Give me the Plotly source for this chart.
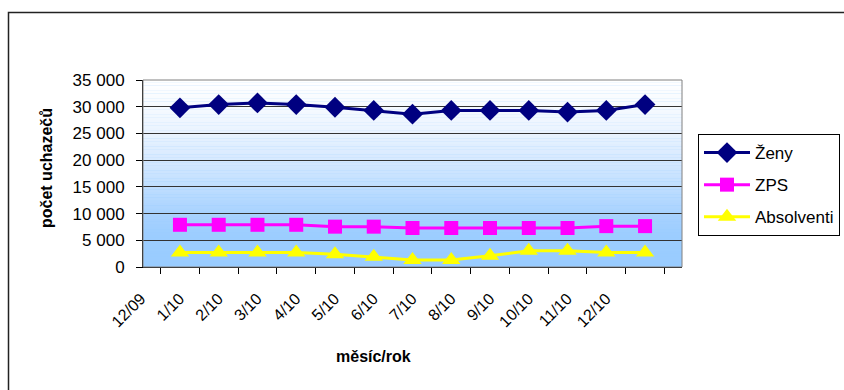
import plotly.graph_objects as go

months = ["12/09", "1/10", "2/10", "3/10", "4/10", "5/10", "6/10", "7/10",
          "8/10", "9/10", "10/10", "11/10", "12/10"]
zeny = [29800, 30400, 30700, 30400, 29900, 29300, 28600, 29300, 29300, 29300, 29000, 29300, 30400]
zps = [7900, 7900, 7900, 7900, 7550, 7550, 7300, 7300, 7300, 7300, 7300, 7650, 7650]
absolventi = [2700, 2700, 2700, 2700, 2400, 1900, 1300, 1300, 2100, 3050, 3050, 2700, 2700]
y_ticks = [0, 5000, 10000, 15000, 20000, 25000, 30000, 35000]
y_ticktext = ["0", "5 000", "10 000", "15 000", "20 000", "25 000", "30 000", "35 000"]

W, H = 844, 390
PL, PR, PT, PB = 143, 682, 80, 267          # plot area in screen px
L, R, T, B = PL, W - PR, PT, H - PB
PW, PH = PR - PL, PB - PT


def px_x(px):
    return (px - PL) / PW


def px_y(py):
    return (PB - py) / PH


FONT = "Liberation Sans, Arial, sans-serif"

fig = go.Figure()
fig.add_trace(go.Scatter(x=months, y=zeny, name="Ženy", mode="lines+markers",
                         line=dict(color="#000080", width=3),
                         marker=dict(symbol="diamond", size=16, color="#000080"),
                         legendgroup="a"))
fig.add_trace(go.Scatter(x=months, y=zps, name="ZPS", mode="lines+markers",
                         line=dict(color="#FF00FF", width=3),
                         marker=dict(symbol="square", size=14, color="#FF00FF"),
                         legendgroup="b"))
fig.add_trace(go.Scatter(x=months, y=absolventi, name="Absolventi", mode="lines+markers",
                         line=dict(color="#FFFF00", width=3),
                         marker=dict(symbol="triangle-up", size=16, color="#FFFF00"),
                         legendgroup="c"))

# gradient background bands
stops = [(0, (0x99, 0xCC, 0xFF)), (6000, (0x9C, 0xCD, 0xFF)), (10000, (0xA8, 0xD2, 0xFF)),
         (15000, (0xBF, 0xDE, 0xFF)), (20000, (0xD6, 0xE9, 0xFF)), (25000, (0xE9, 0xF3, 0xFF)),
         (30000, (0xF6, 0xFA, 0xFF)), (35000, (0xFF, 0xFF, 0xFF))]


def col_at(v):
    for (a, ca), (b, cb) in zip(stops[:-1], stops[1:]):
        if a <= v <= b:
            t = (v - a) / (b - a)
            return "rgb(%d,%d,%d)" % tuple(round(ca[i] + (cb[i] - ca[i]) * t) for i in range(3))
    return "rgb(255,255,255)"


shapes = []
n = 70
step = 35000 / n
for i in range(n):
    y0 = i * step
    shapes.append(dict(type="rect", xref="paper", yref="y", x0=0, x1=1, y0=y0, y1=y0 + step * 1.05,
                       fillcolor=col_at(y0 + step / 2), line=dict(width=0), layer="below"))
# plot area border
shapes.append(dict(type="rect", xref="paper", yref="paper", x0=0, x1=1, y0=0, y1=1,
                   line=dict(color="#808080", width=1), layer="above"))
# outer chart frame (right and bottom edges fall outside the picture)
shapes.append(dict(type="rect", xref="paper", yref="paper",
                   x0=px_x(8.5), x1=px_x(900), y0=px_y(450), y1=px_y(12.5),
                   line=dict(color="#222222", width=1.5), layer="below"))

fig.update_layout(
    width=W, height=H,
    margin=dict(l=L, r=R, t=T, b=B, autoexpand=False),
    paper_bgcolor="white",
    plot_bgcolor="#99CCFF",
    font=dict(family=FONT, size=16, color="black"),
    shapes=shapes,
    showlegend=True,
    legend=dict(x=px_x(698), xanchor="left", y=px_y(134), yanchor="top",
                bordercolor="black", borderwidth=1, bgcolor="white",
                font=dict(family=FONT, size=17, color="black"),
                tracegroupgap=7, itemwidth=46),
    annotations=[
        dict(text="<b>měsíc/rok</b>", xref="paper", yref="paper", x=px_x(373), y=px_y(356),
             showarrow=False, xanchor="center", yanchor="middle",
             font=dict(family=FONT, size=16, color="black")),
        dict(text="<b>počet uchazečů</b>", xref="paper", yref="paper", x=px_x(46), y=px_y(168),
             showarrow=False, xanchor="center", yanchor="middle", textangle=-90,
             font=dict(family=FONT, size=16, color="black")),
    ],
)
fig.update_xaxes(type="category", tickson="boundaries", ticks="outside", ticklen=6,
                 tickcolor="black", showline=True, linecolor="black", linewidth=1,
                 showgrid=False, tickangle=-45, tickfont=dict(size=16),
                 ticklabelshift=-39, ticklabelstandoff=15, automargin=False)
fig.update_yaxes(range=[0, 35000], tickvals=y_ticks, ticktext=y_ticktext,
                 ticks="outside", ticklen=6, tickcolor="black", showline=True,
                 linecolor="black", linewidth=1, showgrid=True, gridcolor="#333333",
                 gridwidth=1, zeroline=False, tickfont=dict(size=17),
                 ticklabelstandoff=8, automargin=False)

fig.write_html("out.html", config={"displayModeBar": False},
               post_script="document.body.style.margin='0';document.body.style.overflow='hidden';")
